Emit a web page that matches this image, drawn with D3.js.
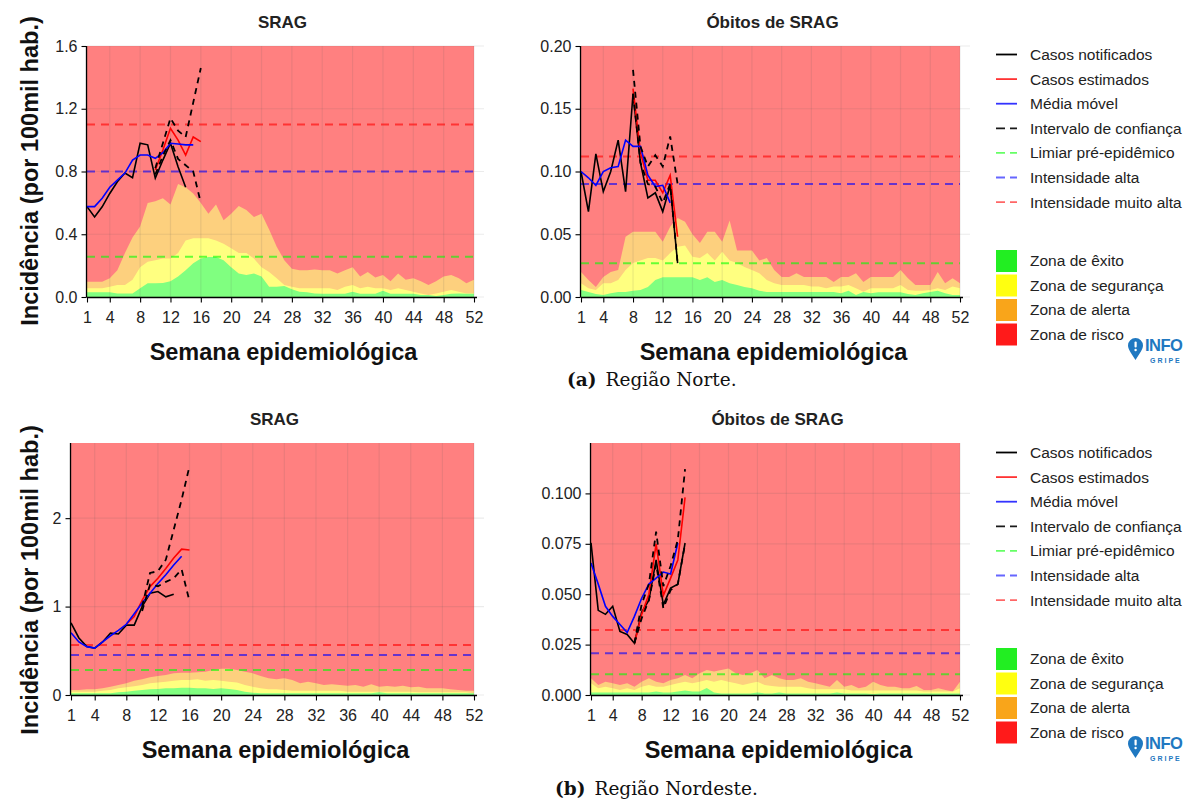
<!DOCTYPE html>
<html><head><meta charset="utf-8">
<script src="https://cdn.jsdelivr.net/npm/d3@7"></script>
<style>body{margin:0;background:#fff}svg{display:block}</style>
</head><body><svg id="c" width="1190" height="801"></svg>
<script>
// ---------- DATA ----------
const weeks = d3.range(1, 53);
const xTickWeeks = [1,4,8,12,16,20,24,28,32,36,40,44,48,52];

// Região Norte - SRAG
const nS_green  = [0.03,0.03,0.03,0.03,0.023,0.023,0.023,0.055,0.087,0.087,0.09,0.10,0.13,0.17,0.215,0.245,0.255,0.255,0.235,0.19,0.15,0.14,0.15,0.13,0.065,0.065,0.07,0.05,0.034,0.03,0.023,0.02,0.02,0.02,0.02,0.034,0.02,0.02,0.02,0.04,0.02,0.02,0.02,0.02,0.013,0.013,0.006,0.013,0.02,0.023,0.02,0.02];
const nS_yellow = [0.055,0.055,0.055,0.065,0.076,0.076,0.11,0.19,0.225,0.235,0.245,0.245,0.28,0.36,0.375,0.375,0.375,0.36,0.34,0.31,0.28,0.28,0.245,0.19,0.16,0.12,0.076,0.065,0.055,0.055,0.055,0.055,0.055,0.045,0.065,0.076,0.055,0.065,0.055,0.055,0.045,0.055,0.045,0.034,0.023,0.013,0.023,0.034,0.045,0.034,0.023,0.023];
const nS_orange = [0.098,0.098,0.098,0.12,0.17,0.28,0.38,0.45,0.6,0.61,0.63,0.59,0.72,0.70,0.66,0.6,0.53,0.59,0.49,0.53,0.58,0.555,0.51,0.53,0.43,0.32,0.235,0.18,0.17,0.17,0.175,0.17,0.17,0.15,0.17,0.19,0.13,0.16,0.125,0.14,0.1,0.15,0.11,0.12,0.1,0.076,0.1,0.13,0.14,0.12,0.087,0.11];
const nS_notifStart = 1, nS_notif = [0.576,0.51,0.575,0.66,0.735,0.79,0.76,0.98,0.97,0.757,0.873,0.98,0.83,0.70];
const nS_estStart = 10, nS_est = [0.81,0.937,1.075,1.0,0.905,1.02,0.99];
const nS_mmStart = 1, nS_mm = [0.576,0.576,0.63,0.70,0.745,0.79,0.873,0.905,0.905,0.884,0.92,0.98,0.975,0.97,0.97];
const nS_ciStart = 10, nS_ciUp = [0.82,0.98,1.14,1.06,1.02,1.24,1.46], nS_ciLo = [0.78,0.9,1.0,0.88,0.84,0.80,0.6];
const nS_thr = [0.257, 0.80, 1.10];

// Região Norte - Óbitos de SRAG
const nO_green  = [0.0056,0.004,0.0024,0.0016,0.003,0.004,0.004,0.005,0.0056,0.008,0.0135,0.0157,0.0157,0.0157,0.0157,0.0157,0.0135,0.0157,0.012,0.0135,0.011,0.0096,0.008,0.007,0.005,0.004,0.004,0.004,0.004,0.004,0.004,0.004,0.004,0.004,0.004,0.003,0.005,0.0016,0.004,0.003,0.0037,0.0037,0.0037,0.0037,0.0024,0.0016,0.003,0.004,0.005,0.003,0.0016,0.0016];
const nO_yellow = [0.011,0.007,0.0056,0.011,0.011,0.0135,0.0215,0.027,0.029,0.031,0.031,0.029,0.035,0.04,0.041,0.032,0.031,0.035,0.029,0.036,0.029,0.027,0.024,0.0215,0.019,0.0135,0.011,0.0096,0.0096,0.0096,0.0096,0.0083,0.0083,0.007,0.0083,0.0083,0.0096,0.007,0.0042,0.007,0.007,0.007,0.007,0.0096,0.0056,0.005,0.005,0.0056,0.007,0.0056,0.0083,0.007];
const nO_orange = [0.02,0.0135,0.008,0.016,0.02,0.0215,0.048,0.052,0.052,0.052,0.052,0.044,0.056,0.063,0.06,0.05,0.043,0.052,0.052,0.044,0.061,0.037,0.037,0.037,0.029,0.031,0.0215,0.016,0.016,0.019,0.016,0.016,0.016,0.016,0.012,0.016,0.016,0.019,0.012,0.016,0.016,0.016,0.016,0.0215,0.015,0.0096,0.0096,0.0096,0.02,0.011,0.015,0.011];
const nO_notifStart = 1, nO_notif = [0.1,0.068,0.114,0.084,0.1,0.125,0.084,0.162,0.107,0.079,0.083,0.068,0.089,0.027];
const nO_estStart = 8, nO_est = [0.166,0.115,0.093,0.093,0.083,0.097,0.048];
const nO_mmStart = 1, nO_mm = [0.1,0.095,0.089,0.1,0.103,0.104,0.125,0.12,0.12,0.097,0.088,0.089,0.075];
const nO_ciStart = 8, nO_ciUp = [0.181,0.12,0.104,0.113,0.104,0.128,0.09], nO_ciLo = [0.162,0.107,0.09,0.088,0.075,0.09,0.027];
const nO_thr = [0.0268, 0.090, 0.112];

// Região Nordeste - SRAG
const neS_green  = [0.019,0.019,0.019,0.019,0.019,0.019,0.03,0.038,0.049,0.057,0.064,0.068,0.075,0.075,0.083,0.083,0.075,0.075,0.068,0.075,0.068,0.057,0.038,0.026,0.019,0.019,0.019,0.019,0.019,0.019,0.019,0.019,0.019,0.019,0.019,0.019,0.019,0.019,0.019,0.03,0.019,0.019,0.019,0.019,0.019,0.019,0.019,0.019,0.019,0.019,0.019,0.019];
const neS_yellow = [0.038,0.038,0.038,0.038,0.049,0.057,0.075,0.087,0.1,0.113,0.132,0.14,0.15,0.16,0.17,0.17,0.177,0.16,0.17,0.16,0.15,0.14,0.113,0.094,0.075,0.064,0.064,0.057,0.049,0.049,0.049,0.049,0.049,0.049,0.049,0.038,0.038,0.038,0.038,0.038,0.038,0.038,0.038,0.038,0.03,0.03,0.03,0.03,0.03,0.03,0.03,0.019];
const neS_orange = [0.057,0.057,0.064,0.064,0.075,0.094,0.113,0.132,0.16,0.177,0.2,0.215,0.226,0.245,0.253,0.253,0.257,0.264,0.283,0.298,0.298,0.283,0.264,0.245,0.215,0.189,0.177,0.189,0.17,0.132,0.15,0.132,0.113,0.121,0.113,0.106,0.113,0.094,0.121,0.094,0.102,0.094,0.106,0.087,0.094,0.075,0.075,0.075,0.064,0.057,0.049,0.049];
const neS_notifStart = 1, neS_notif = [0.815,0.645,0.547,0.53,0.6,0.70,0.69,0.79,0.79,1.0,1.15,1.17,1.11,1.14];
const neS_estStart = 8, neS_est = [0.8,0.887,1.07,1.226,1.32,1.43,1.55,1.65,1.64];
const neS_mmStart = 1, neS_mm = [0.705,0.6,0.547,0.53,0.6,0.67,0.73,0.8,0.92,1.04,1.15,1.26,1.36,1.47,1.57];
const neS_ciStart = 10, neS_ciUp = [1.0,1.38,1.4,1.53,1.87,2.21,2.59], neS_ciLo = [0.95,1.25,1.23,1.28,1.32,1.42,1.06];
const neS_thr = [0.283, 0.453, 0.566];

// Região Nordeste - Óbitos de SRAG
const neO_green  = [0.0012,0.0012,0.0012,0.0012,0.0012,0.0012,0.0012,0.0012,0.0012,0.0017,0.0012,0.0012,0.0017,0.0022,0.0017,0.0017,0.0035,0.0012,0.0008,0.0008,0.0008,0.0008,0.0008,0.0013,0.0008,0.0008,0.0012,0.0008,0.0008,0.0008,0.0008,0.0008,0.0008,0.0008,0.0013,0.0008,0.0008,0.0008,0.0008,0.0005,0.0008,0.0008,0.0008,0.0008,0.0008,0.0008,0.0008,0.0008,0.0008,0.0008,0.0008,0.0008];
const neO_yellow = [0.0058,0.0033,0.0041,0.0033,0.0025,0.0033,0.0025,0.0041,0.005,0.0041,0.0041,0.005,0.0058,0.0066,0.0058,0.0066,0.0075,0.0066,0.0075,0.0066,0.0058,0.005,0.0058,0.0066,0.005,0.0045,0.0041,0.0041,0.0041,0.0041,0.0033,0.0028,0.0028,0.0028,0.0028,0.0028,0.0022,0.0022,0.0022,0.0022,0.0022,0.0022,0.0022,0.0022,0.0022,0.0022,0.0017,0.0017,0.0017,0.0017,0.0017,0.0033];
const neO_orange = [0.0083,0.005,0.0066,0.0058,0.005,0.0058,0.0041,0.0066,0.0083,0.0066,0.0058,0.0075,0.0083,0.0099,0.0083,0.0108,0.0124,0.0116,0.0124,0.0132,0.0108,0.0099,0.0108,0.0124,0.0083,0.0099,0.0083,0.0075,0.0075,0.0083,0.0066,0.0058,0.005,0.0041,0.0075,0.0041,0.005,0.0033,0.0041,0.0066,0.005,0.0041,0.0041,0.0033,0.0033,0.0045,0.0025,0.0025,0.0033,0.0025,0.0017,0.0066];
const neO_notifStart = 1, neO_notif = [0.0755,0.042,0.040,0.044,0.0315,0.030,0.0257,0.041,0.047,0.067,0.0447,0.053,0.055,0.0754];
const neO_estStart = 7, neO_est = [0.0257,0.04,0.05,0.075,0.0494,0.058,0.067,0.098];
const neO_mmStart = 1, neO_mm = [0.0655,0.055,0.044,0.039,0.035,0.031,0.039,0.048,0.055,0.058,0.061,0.060,0.0754];
const neO_ciStart = 7, neO_ciUp = [0.0257,0.045,0.055,0.081,0.054,0.064,0.077,0.112], neO_ciLo = [0.0257,0.038,0.047,0.065,0.043,0.052,0.055,0.075];
const neO_thr = [0.0103, 0.0207, 0.0323];

// Legend / text
const lineLegend = ["Casos notificados","Casos estimados","Média móvel","Intervalo de confiança","Limiar pré-epidêmico","Intensidade alta","Intensidade muito alta"];
const zoneLegend = ["Zona de êxito","Zona de segurança","Zona de alerta","Zona de risco"];
const captions = [["(a)","Região Norte."],["(b)","Região Nordeste."]];

// ---------- STYLE ----------
const SANS = "'Liberation Sans', Arial, Helvetica, sans-serif";
const ZC = {red:"#ff8080", orange:"#fdd07e", yellow:"#ffff80", green:"#80ff80"};
const svg = d3.select("#c");

const panels = [
  {x0:87,x1:474,y0:46,y1:297,ymax:1.6,ticks:[0,0.4,0.8,1.2,1.6],fmt:d3.format(".1f"),title:"SRAG",
   g:nS_green,yl:nS_yellow,o:nS_orange,notif:[nS_notifStart,nS_notif],est:[nS_estStart,nS_est],mm:[nS_mmStart,nS_mm],ciUp:[nS_ciStart,nS_ciUp],ciLo:[nS_ciStart,nS_ciLo],thr:nS_thr},
  {x0:581,x1:960,y0:46,y1:297,ymax:0.2,ticks:[0,0.05,0.1,0.15,0.2],fmt:d3.format(".2f"),title:"Óbitos de SRAG",
   g:nO_green,yl:nO_yellow,o:nO_orange,notif:[nO_notifStart,nO_notif],est:[nO_estStart,nO_est],mm:[nO_mmStart,nO_mm],ciUp:[nO_ciStart,nO_ciUp],ciLo:[nO_ciStart,nO_ciLo],thr:nO_thr},
  {x0:71,x1:474,y0:443,y1:695,ymax:2.85,ticks:[0,1,2],fmt:d3.format("d"),title:"SRAG",
   g:neS_green,yl:neS_yellow,o:neS_orange,notif:[neS_notifStart,neS_notif],est:[neS_estStart,neS_est],mm:[neS_mmStart,neS_mm],ciUp:[neS_ciStart,neS_ciUp],ciLo:[neS_ciStart,neS_ciLo],thr:neS_thr},
  {x0:591,x1:960,y0:443,y1:695,ymax:0.125,ticks:[0,0.025,0.05,0.075,0.1],fmt:d3.format(".3f"),title:"Óbitos de SRAG",
   g:neO_green,yl:neO_yellow,o:neO_orange,notif:[neO_notifStart,neO_notif],est:[neO_estStart,neO_est],mm:[neO_mmStart,neO_mm],ciUp:[neO_ciStart,neO_ciUp],ciLo:[neO_ciStart,neO_ciLo],thr:neO_thr}
];

function drawPanel(p) {
  const x = d3.scaleLinear().domain([1,52]).range([p.x0,p.x1]);
  const y = d3.scaleLinear().domain([0,p.ymax]).range([p.y1,p.y0]);
  const g = svg.append("g");
  // zona de risco (background)
  g.append("rect").attr("x",x(1)).attr("y",y(p.ymax)).attr("width",x(52)-x(1)).attr("height",y(0)-y(p.ymax)).attr("fill",ZC.red);
  const area = d3.area().x((d,i)=>x(weeks[i])).y0(y(0)).y1(d=>y(d)).curve(d3.curveLinear);
  [[p.o,ZC.orange],[p.yl,ZC.yellow],[p.g,ZC.green]].forEach(([arr,c])=>{
    g.append("path").datum(arr).attr("d",area).attr("fill",c);
  });
  // grid
  g.selectAll(".hg").data(p.ticks).join("line")
    .attr("x1",x(1)).attr("x2",x(52)+10).attr("y1",d=>y(d)).attr("y2",d=>y(d))
    .attr("stroke","rgba(90,90,90,0.12)").attr("stroke-width",1.2);
  g.selectAll(".vg").data(xTickWeeks).join("line")
    .attr("x1",d=>x(d)).attr("x2",d=>x(d)).attr("y1",y(p.ymax)).attr("y2",y(0))
    .attr("stroke","rgba(90,90,90,0.12)").attr("stroke-width",1.2);
  // thresholds
  const thrCol = ["#00ff00","#0000ff","#ff0000"];
  p.thr.forEach((t,i)=>{
    g.append("line").attr("x1",x(1)).attr("x2",x(52)).attr("y1",y(t)).attr("y2",y(t))
      .attr("stroke",thrCol[i]).attr("stroke-opacity",0.6).attr("stroke-width",2).attr("stroke-dasharray","8,6");
  });
  // series
  const line = d3.line().x(d=>x(d[0])).y(d=>y(d[1]));
  const pts = ([s,arr]) => arr.map((v,i)=>[s+i,v]);
  g.append("path").datum(pts(p.notif)).attr("d",line).attr("fill","none").attr("stroke","#000").attr("stroke-width",1.6);
  g.append("path").datum(pts(p.est)).attr("d",line).attr("fill","none").attr("stroke","#ff0000").attr("stroke-width",1.6);
  g.append("path").datum(pts(p.mm)).attr("d",line).attr("fill","none").attr("stroke","#0000ff").attr("stroke-width",1.6);
  [p.ciUp,p.ciLo].forEach(c=>{
    g.append("path").datum(pts(c)).attr("d",line).attr("fill","none").attr("stroke","#000").attr("stroke-width",1.8).attr("stroke-dasharray","6,5");
  });
  // axes
  const xa = d3.axisBottom(x).tickValues(xTickWeeks).tickSize(5).tickPadding(9);
  const xg = g.append("g").attr("transform",`translate(0,${p.y1+0.5})`).call(xa);
  const ya = d3.axisLeft(y).tickValues(p.ticks).tickFormat(p.fmt).tickSize(5).tickPadding(4);
  const yg = g.append("g").attr("transform",`translate(${p.x0-0.5},0)`).call(ya);
  [xg,yg].forEach(a=>{
    a.select(".domain").attr("stroke","#000").attr("stroke-width",1.3);
    a.selectAll(".tick line").attr("stroke","#000").attr("stroke-width",1.1);
    a.selectAll(".tick text").attr("font-family",SANS).attr("font-size",16).attr("fill","#222");
  });
  xg.select(".domain").attr("d",`M${x(1)},0H${x(52)+3}`);
  yg.select(".domain").attr("d",`M0,${y(p.ymax)}V${y(0)+0.5}`);
  // titles
  const cx = (p.x0+p.x1)/2 + 2;
  svg.append("text").attr("x",cx).attr("y",p.y0-18).attr("text-anchor","middle")
    .attr("font-family",SANS).attr("font-weight","bold").attr("font-size",17).attr("fill","#222").text(p.title);
  svg.append("text").attr("x",cx+1).attr("y",p.y1+63).attr("text-anchor","middle")
    .attr("font-family",SANS).attr("font-weight","bold").attr("font-size",23.5).attr("fill","#111").text("Semana epidemiológica");
}
panels.forEach(drawPanel);

// y titles
[171, 580].forEach(cy=>{
  svg.append("text").attr("transform",`translate(30,${cy}) rotate(-90)`).attr("dy","0.35em")
    .attr("text-anchor","middle").attr("font-family",SANS).attr("font-weight","bold").attr("font-size",23.5).attr("fill","#111")
    .text("Incidência (por 100mil hab.)");
});

// legends
const legLineStyle = [
  {c:"#000",o:1,dash:null},{c:"#ff0000",o:0.8,dash:null},{c:"#0000ff",o:0.8,dash:null},
  {c:"#000",o:0.9,dash:"9,5"},{c:"#00ff00",o:0.6,dash:"9,5"},{c:"#0000ff",o:0.6,dash:"9,5"},{c:"#ff0000",o:0.6,dash:"9,5"}
];
const zoneLegCol = ["#22ee22","#ffff10","#f9a51a","#ff1a1a"];
[0,398].forEach(off=>{
  const lg = svg.append("g").attr("transform",`translate(0,${off})`);
  lineLegend.forEach((t,i)=>{
    const yy = 54.5 + i*24.6;
    const s = legLineStyle[i];
    lg.append("line").attr("x1",996).attr("x2",1017).attr("y1",yy).attr("y2",yy)
      .attr("stroke",s.c).attr("stroke-opacity",s.o).attr("stroke-width",1.8).attr("stroke-dasharray",s.dash);
    lg.append("text").attr("x",1030).attr("y",yy).attr("dy","0.35em").attr("font-family",SANS).attr("font-size",15.5).attr("fill","#222").text(t);
  });
  zoneLegend.forEach((t,i)=>{
    const yy = 261 + i*24.5;
    lg.append("rect").attr("x",996).attr("y",yy-11).attr("width",21).attr("height",22).attr("fill",zoneLegCol[i]);
    lg.append("text").attr("x",1030).attr("y",yy).attr("dy","0.35em").attr("font-family",SANS).attr("font-size",15.5).attr("fill","#222").text(t);
  });
  // INFO GRIPE logo
  const lo = lg.append("g").attr("transform","translate(1128,338)");
  lo.append("path").attr("d","M7.5,22 C3,15 0,11 0,7.5 A7.5,7.5 0 0 1 15,7.5 C15,11 12,15 7.5,22 Z").attr("fill","#1f78c1");
  lo.append("rect").attr("x",6.5).attr("y",3.5).attr("width",2.2).attr("height",6).attr("rx",1).attr("fill","#fff");
  lo.append("circle").attr("cx",7.6).attr("cy",12).attr("r",1.2).attr("fill","#fff");
  lo.append("text").attr("x",17).attr("y",12.5).attr("font-family",SANS).attr("font-weight","bold").attr("font-size",16.5).attr("fill","#1f78c1").attr("letter-spacing",-0.5).text("INFO");
  lo.append("text").attr("x",22).attr("y",24.5).attr("font-family",SANS).attr("font-weight","bold").attr("font-size",7).attr("fill","#1f78c1").attr("letter-spacing",2).text("GRIPE");
});

// captions
[[567,386],[555,795]].forEach(([xx,yy],i)=>{
  const t = svg.append("text").attr("x",xx).attr("y",yy).attr("font-family","'DejaVu Serif', serif").attr("font-size",18.5).attr("fill","#111");
  t.append("tspan").attr("font-weight","bold").text(captions[i][0]);
  t.append("tspan").attr("dx",9).text(captions[i][1]);
});
</script></body></html>
